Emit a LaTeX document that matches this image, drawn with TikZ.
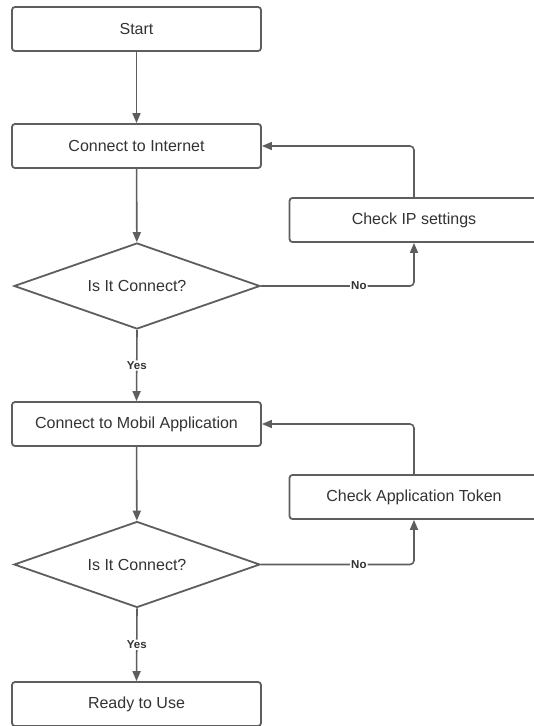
\documentclass[tikz,border=0pt]{standalone}
\usepackage{fontspec}
\setmainfont{Liberation Sans}
\usetikzlibrary{arrows.meta,shapes.geometric}
\definecolor{ln}{HTML}{5E5E5E}
\definecolor{tx}{HTML}{333333}
\begin{document}
\begin{tikzpicture}[x=1pt,y=-1pt,
  stepbox/.style={draw=ln,line width=1.8pt,rounded corners=3pt,minimum width=249pt,minimum height=44pt,inner sep=0pt,font=\fontsize{16}{18}\selectfont,text=tx},
  decis/.style={draw=ln,line width=1.8pt,diamond,minimum width=246pt,minimum height=86pt,inner xsep=-40pt,inner ysep=-8pt,font=\fontsize{16}{18}\selectfont,text=tx},
  conn/.style={draw=ln,line width=1.6pt,-{Triangle[length=10pt,width=8pt]},rounded corners=4pt},
  lab/.style={font=\bfseries\fontsize{11.5}{13}\selectfont,text=tx,fill=white,inner sep=1pt}]
\useasboundingbox (0,0) rectangle (534,726);
\fill[white] (0,0) rectangle (534,726);
\node[stepbox] (start) at (136.5,29) {Start};
\node[stepbox] (inet) at (136.5,146) {Connect to Internet};
\node[decis] (d1) at (137,286) {Is It Connect?};
\node[stepbox] (ip) at (414,220) {Check IP settings};
\node[stepbox] (app) at (136.5,424) {Connect to Mobil Application};
\node[decis] (d2) at (137,564.5) {Is It Connect?};
\node[stepbox] (tok) at (414,497) {Check Application Token};
\node[stepbox] (ready) at (136.5,704) {Ready to Use};
\draw[conn] (start) -- (inet);
\draw[conn] (inet) -- (d1);
\draw[conn] (d1.east) -| node[lab,pos=0.32] {No} (ip.south);
\draw[conn] (ip.north) |- (inet.east);
\draw[conn] (d1.south) -- node[lab] {Yes} (app.north);
\draw[conn] (app) -- (d2);
\draw[conn] (d2.east) -| node[lab,pos=0.32] {No} (tok.south);
\draw[conn] (tok.north) |- (app.east);
\draw[conn] (d2.south) -- node[lab] {Yes} (ready.north);
\end{tikzpicture}
\end{document}
